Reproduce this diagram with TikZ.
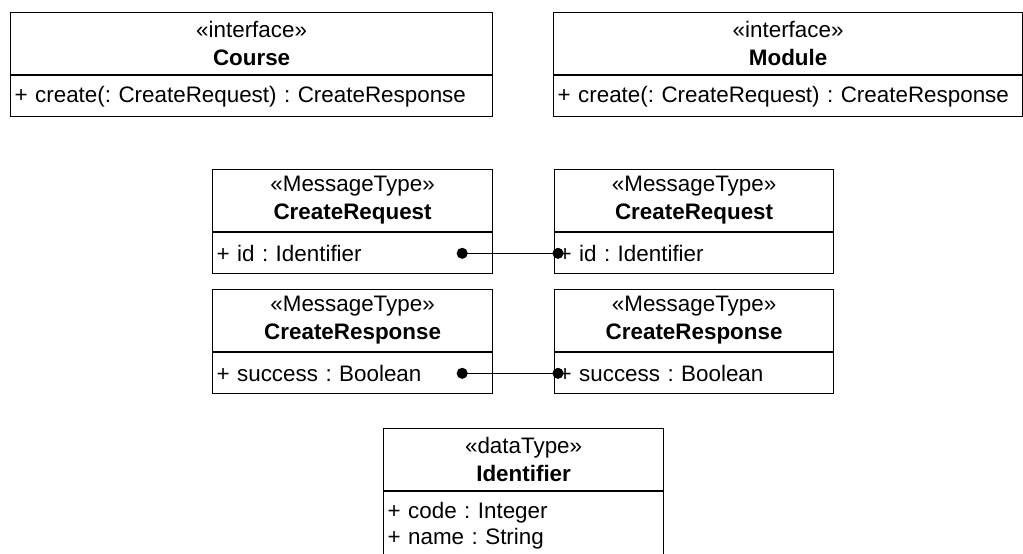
\documentclass[tikz,border=0pt]{standalone}
\usepackage{fontspec}
\setmainfont{Liberation Sans}
\frenchspacing
\usetikzlibrary{arrows.meta,positioning,calc}

\begin{document}
\begin{tikzpicture}[x=1pt, y=-1pt, >=Latex,
  every node/.style={font=\fontsize{22.4}{28}\selectfont},
  headbox/.style={draw, line width=1.2pt, anchor=north west, minimum height=62pt, align=center, inner sep=0pt},
  bodybox/.style={draw, line width=1.2pt, below=0pt of #1, align=left, inner xsep=4pt, inner ysep=3pt, minimum height=41pt, font=\fontsize{22.4}{25.5}\selectfont},
  link/.style={line width=1.2pt, {Circle[length=11pt]}-{Circle[length=11pt]}}]
\useasboundingbox (0,0) rectangle (1023,554);
\foreach \id/\x/\y/\w/\st/\ttl/\attr in {
    course/10/12/482/interface/Course/{+ create(: CreateRequest) : CreateResponse},
    module/553/12/469/interface/Module/{+ create(: CreateRequest) : CreateResponse},
    reqA/212/169/280/MessageType/CreateRequest/{+ id : Identifier},
    reqB/554/169/279/MessageType/CreateRequest/{+ id : Identifier},
    respA/212/289/280/MessageType/CreateResponse/{+ success : Boolean},
    respB/554/289/279/MessageType/CreateResponse/{+ success : Boolean}} {
    \pgfmathsetmacro\tw{\w-8}
    \node[headbox, minimum width=\w pt] (\id) at (\x,\y) {«\st»\\\textbf{\ttl}};
    \node[bodybox=\id, text width=\tw pt] (\id-body) {\attr};
}
% data type, runs off the bottom edge
\node[headbox, minimum width=280pt] (ident) at (383,428) {«dataType»\\\textbf{Identifier}};
\node[bodybox=ident, text width=272pt, minimum height=68pt] (ident-body) {+ code : Integer\\+ name : String};
% attribute links
\draw[link] ([xshift=-36.5pt]reqA-body.east) -- ([xshift=9.5pt]reqB-body.west);
\draw[link] ([xshift=-36.5pt]respA-body.east) -- ([xshift=9.5pt]respB-body.west);
\end{tikzpicture}
\end{document}
